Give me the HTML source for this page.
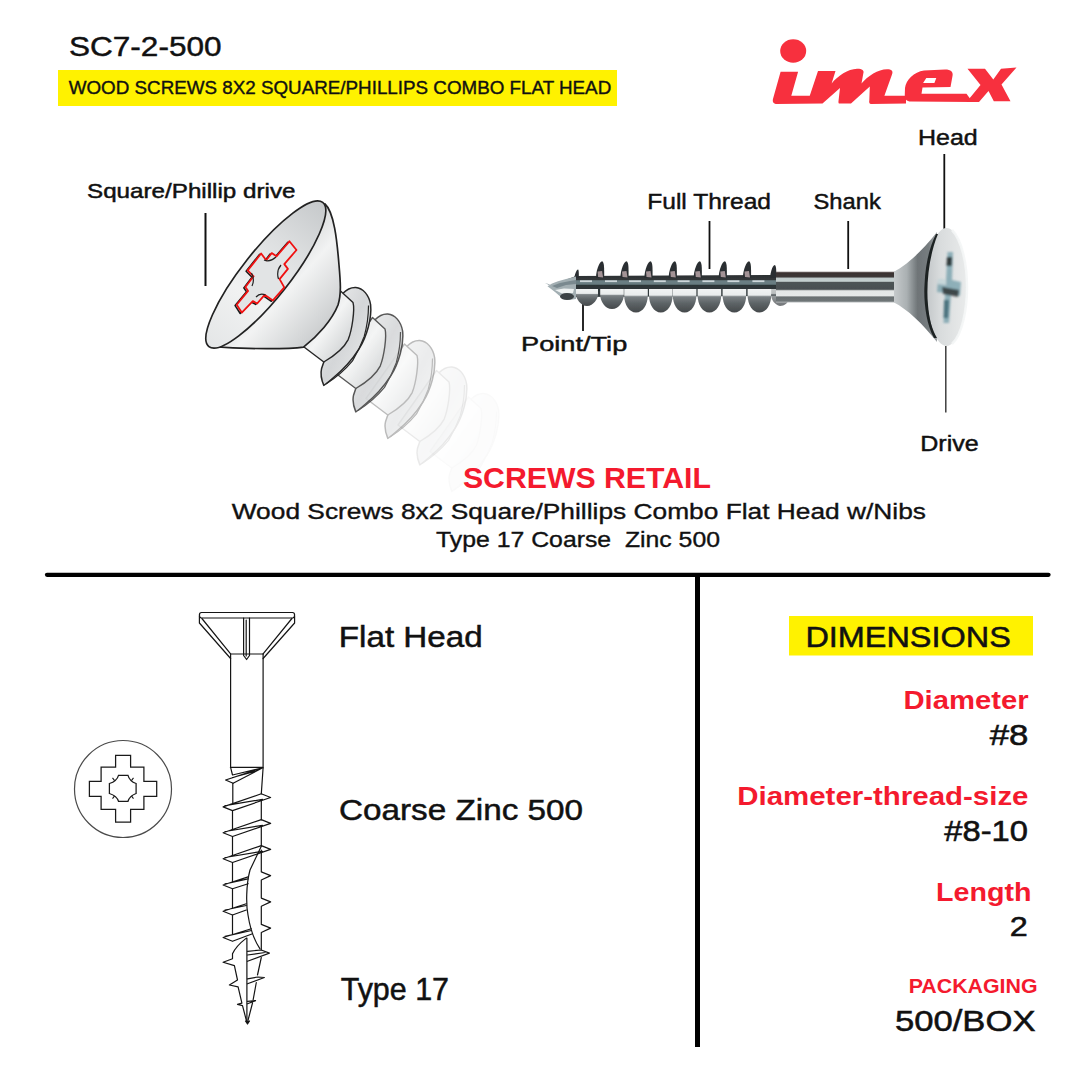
<!DOCTYPE html>
<html><head><meta charset="utf-8">
<style>
html,body{margin:0;padding:0;background:#fff;}
body{width:1080px;height:1080px;overflow:hidden;}
svg{display:block;}
text{font-family:"Liberation Sans",sans-serif;}
</style></head>
<body>
<svg width="1080" height="1080" viewBox="0 0 1080 1080">
<defs>
 <filter id="soft2" x="-20%" y="-20%" width="140%" height="140%"><feGaussianBlur stdDeviation="0.9"/></filter>
 <linearGradient id="ringg" x1="0" y1="0" x2="1" y2="1">
  <stop offset="0" stop-color="#f2f3f3"/>
  <stop offset="0.5" stop-color="#d4d6d8"/>
  <stop offset="1" stop-color="#eceeee"/>
 </linearGradient>
 <linearGradient id="coreL" x1="0" y1="0" x2="1" y2="1">
  <stop offset="0" stop-color="#d0d2d4"/>
  <stop offset="0.5" stop-color="#f3f4f4"/>
  <stop offset="1" stop-color="#c2c5c7"/>
 </linearGradient>

 <filter id="soft" x="-5%" y="-5%" width="110%" height="110%"><feGaussianBlur stdDeviation="0.55"/></filter>
 <linearGradient id="core" x1="0" y1="0" x2="0" y2="1">
  <stop offset="0" stop-color="#2c3032"/>
  <stop offset="0.22" stop-color="#323739"/>
  <stop offset="0.26" stop-color="#6c8085"/>
  <stop offset="0.42" stop-color="#667a7f"/>
  <stop offset="0.47" stop-color="#2c3436"/>
  <stop offset="1" stop-color="#333b3d"/>
 </linearGradient>
 <linearGradient id="lobe" x1="0" y1="0" x2="0" y2="1">
  <stop offset="0" stop-color="#f1f3f3"/>
  <stop offset="0.26" stop-color="#e9ecec"/>
  <stop offset="0.33" stop-color="#7b8184"/>
  <stop offset="0.6" stop-color="#5e6467"/>
  <stop offset="1" stop-color="#45494b"/>
 </linearGradient>

 <linearGradient id="shank" x1="0" y1="0" x2="0" y2="1">
  <stop offset="0" stop-color="#7a7070"/>
  <stop offset="0.05" stop-color="#3a3232"/>
  <stop offset="0.17" stop-color="#3e3838"/>
  <stop offset="0.21" stop-color="#bfcacb"/>
  <stop offset="0.31" stop-color="#c5d0d0"/>
  <stop offset="0.35" stop-color="#4d5355"/>
  <stop offset="0.57" stop-color="#4a5052"/>
  <stop offset="0.62" stop-color="#e3e6e6"/>
  <stop offset="0.78" stop-color="#e5e8e8"/>
  <stop offset="0.82" stop-color="#6a7072"/>
  <stop offset="0.95" stop-color="#6e7476"/>
  <stop offset="1" stop-color="#b8bcbe"/>
 </linearGradient>
 <linearGradient id="cone" x1="0" y1="0" x2="1" y2="0">
  <stop offset="0" stop-color="#c6cacc"/>
  <stop offset="0.3" stop-color="#aab0b2"/>
  <stop offset="0.55" stop-color="#6e7477"/>
  <stop offset="0.8" stop-color="#767c7f"/>
  <stop offset="1" stop-color="#a0a5a8"/>
 </linearGradient>
 <linearGradient id="headface" x1="0" y1="0" x2="1" y2="0">
  <stop offset="0" stop-color="#c3c7c9"/>
  <stop offset="0.35" stop-color="#d9dcdd"/>
  <stop offset="1" stop-color="#e9ebeb"/>
 </linearGradient>
 <linearGradient id="metal" x1="0" y1="0" x2="1" y2="1">
  <stop offset="0" stop-color="#e9eaeb"/>
  <stop offset="0.35" stop-color="#c9cbcd"/>
  <stop offset="0.6" stop-color="#f2f3f3"/>
  <stop offset="1" stop-color="#b9bcbe"/>
 </linearGradient>
 <linearGradient id="metal2" x1="0" y1="0" x2="1" y2="0">
  <stop offset="0" stop-color="#e4e6e7"/>
  <stop offset="0.35" stop-color="#f1f2f2"/>
  <stop offset="0.7" stop-color="#dcdedf"/>
  <stop offset="1" stop-color="#c6c9cb"/>
 </linearGradient>
</defs>

<!-- yellow bars -->
<rect x="58" y="70" width="559" height="36" fill="#fff200"/>
<rect x="789" y="616" width="244" height="39.5" fill="#fff200"/>

<!-- divider lines -->
<line x1="47" y1="574.8" x2="1048.5" y2="574.8" stroke="#000" stroke-width="4.3" stroke-linecap="round"/>
<line x1="697.5" y1="575" x2="697.5" y2="1047" stroke="#000" stroke-width="5"/>

<!-- label lines -->
<line x1="205.5" y1="213" x2="205.5" y2="286" stroke="#111" stroke-width="2"/>
<line x1="709.5" y1="221" x2="709.5" y2="269" stroke="#111" stroke-width="1.8"/>
<line x1="848.2" y1="221" x2="848.2" y2="269" stroke="#111" stroke-width="1.8"/>
<line x1="944.3" y1="154" x2="944.3" y2="229" stroke="#111" stroke-width="1.8"/>
<line x1="945.8" y1="346" x2="945.8" y2="412.5" stroke="#333" stroke-width="1.4"/>
<line x1="583" y1="304" x2="583" y2="331" stroke="#111" stroke-width="1.8"/>

<!--LOGO-->
<!--LOGO_START-->
<g id="logo" fill="#f7303e">
<ellipse cx="793.2" cy="51" rx="13" ry="11.8"/>
<path d="M780.6,71.75 L798.1,71.75 L791.3,95.75 L809.75,95.75 L818,71.1 L835.5,71.1 L831.6,83.4 C838,76 848,69 857,68.8 C862,68.7 864.5,70.5 863.3,73.5 L861.5,83.4 C868,76 878,69.5 887,69.3 C891.5,69.3 893.5,71 892,74.5 L884.4,95.75 L906,95.75 L906,103.5 L871,103.9 C869.5,103.9 868.8,102.5 869.3,100.5 L869.8,86.6 L851,103.6 L839.5,103.6 C838.5,103.6 838.3,102.5 838.5,101 L840,88 L822.5,103.6 L776,104 C773,103.5 772.3,101.5 773.1,98.5 Z"/>
<path fill-rule="evenodd" d="M905,88 C906,80 914,72 924,70.5 L945,69.4 C951,69.4 953.5,72 952.5,76 L950.5,86.9 L922.5,87.5 L921.5,93.75 L966.5,93.75 L972.5,101.9 L911,101.5 C906.5,101.5 904.5,99 904.8,94 Z M926.3,78.1 L936.3,78.1 L934.4,83.1 L923.1,83.1 Z"/>
<path d="M967.5,68.75 L985,68.75 L993.3,79.5 L1001,68.7 L1016.5,67.6 L1001.5,84.5 L1010.5,101.3 L993.8,101.3 L988.5,91 L979,101.9 L966.5,101.9 L980.5,85 Z"/>
</g>
<!--LOGO_END-->

<!--SCREW_RIGHT-->
<!--SCREWR_START-->
<g id="screwR" filter="url(#soft)">
<path d="M568,279 L576,276 L776,275 L776,296 L576,297 L570,296 Z" fill="url(#core)"/>
<path d="M576.0,289 L598.0,289 L598.0,295 C598.0,298 593.6,306 587.0,306 C580.4,306 576.0,298 576.0,295 Z" fill="url(#lobe)"/>
<path d="M600.2,289 L623.8,289 L623.8,295 C623.8,301 619.1,309 612.0,309 C604.9,309 600.2,301 600.2,295 Z" fill="url(#lobe)"/>
<path d="M624.2,289 L647.8,289 L647.8,295 C647.8,304.5 643.1,312.5 636.0,312.5 C628.9,312.5 624.2,304.5 624.2,295 Z" fill="url(#lobe)"/>
<path d="M649.0,289 L672.6,289 L672.6,295 C672.6,304.5 667.9,312.5 660.8,312.5 C653.7,312.5 649.0,304.5 649.0,295 Z" fill="url(#lobe)"/>
<path d="M672.8,289 L696.4,289 L696.4,295 C696.4,304.5 691.7,312.5 684.6,312.5 C677.5,312.5 672.8,304.5 672.8,295 Z" fill="url(#lobe)"/>
<path d="M697.6,289 L721.2,289 L721.2,295 C721.2,304.5 716.5,312.5 709.4,312.5 C702.3,312.5 697.6,304.5 697.6,295 Z" fill="url(#lobe)"/>
<path d="M722.6,289 L746.2,289 L746.2,295 C746.2,304.5 741.5,312.5 734.4,312.5 C727.3,312.5 722.6,304.5 722.6,295 Z" fill="url(#lobe)"/>
<path d="M747.6,289 L771.2,289 L771.2,295 C771.2,304.5 766.5,312.5 759.4,312.5 C752.3,312.5 747.6,304.5 747.6,295 Z" fill="url(#lobe)"/>
<path d="M771,289 L790,289 L790,296 C789,303 784,306 780,306 C775,305 771,300 771,294 Z" fill="url(#lobe)" opacity="0.75"/>
<path d="M574.2,278 C574.2,278.5 575.7,269.5 578.2,269.5 C578.9,270.5 578.9,274.5 578.9,278 Z" fill="#2a2e30"/>
<path d="M596.0,278 C596.0,270.3 599.6,261.3 602.1,261.3 C604.2,262.3 604.2,266.3 604.2,278 Z" fill="#2a2e30"/>
<path d="M597.6,271.5 L602.1,271 L603.1,277.5 L598.1,277 Z" fill="#c2adb0" opacity="0.8"/>
<path d="M620.4,278 C620.4,270.3 624.0,261.3 626.5,261.3 C628.6,262.3 628.6,266.3 628.6,278 Z" fill="#2a2e30"/>
<path d="M622.0,271.5 L626.5,271 L627.5,277.5 L622.5,277 Z" fill="#c2adb0" opacity="0.8"/>
<path d="M644.4,278 C644.4,270.3 648.0,261.3 650.5,261.3 C652.6,262.3 652.6,266.3 652.6,278 Z" fill="#2a2e30"/>
<path d="M646.0,271.5 L650.5,271 L651.5,277.5 L646.5,277 Z" fill="#c2adb0" opacity="0.8"/>
<path d="M668.7,278 C668.7,270.3 672.3,261.3 674.8,261.3 C676.9,262.3 676.9,266.3 676.9,278 Z" fill="#2a2e30"/>
<path d="M670.3,271.5 L674.8,271 L675.8,277.5 L670.8,277 Z" fill="#c2adb0" opacity="0.8"/>
<path d="M693.7,278 C693.7,270.3 697.3,261.3 699.8,261.3 C701.9,262.3 701.9,266.3 701.9,278 Z" fill="#2a2e30"/>
<path d="M695.3,271.5 L699.8,271 L700.8,277.5 L695.8,277 Z" fill="#c2adb0" opacity="0.8"/>
<path d="M718.7,278 C718.7,270.3 722.3,261.3 724.8,261.3 C726.9,262.3 726.9,266.3 726.9,278 Z" fill="#2a2e30"/>
<path d="M720.3,271.5 L724.8,271 L725.8,277.5 L720.8,277 Z" fill="#c2adb0" opacity="0.8"/>
<path d="M742.9,278 C742.9,270.3 746.5,261.3 749.0,261.3 C751.1,262.3 751.1,266.3 751.1,278 Z" fill="#2a2e30"/>
<path d="M744.5,271.5 L749.0,271 L750.0,277.5 L745.0,277 Z" fill="#c2adb0" opacity="0.8"/>
<path d="M770.1,278 C770.1,274 772.3,265 774.8,265 C776.3,266 776.3,270 776.3,278 Z" fill="#2a2e30"/>
<rect x="580.0" y="280.3" width="12" height="1.8" fill="#e6eef0" opacity="0.8"/>
<rect x="605.0" y="280.3" width="12" height="1.8" fill="#e6eef0" opacity="0.8"/>
<rect x="629.0" y="280.3" width="12" height="1.8" fill="#e6eef0" opacity="0.8"/>
<rect x="653.8" y="280.3" width="12" height="1.8" fill="#e6eef0" opacity="0.8"/>
<rect x="677.6" y="280.3" width="12" height="1.8" fill="#e6eef0" opacity="0.8"/>
<rect x="702.4" y="280.3" width="12" height="1.8" fill="#e6eef0" opacity="0.8"/>
<rect x="727.4" y="280.3" width="12" height="1.8" fill="#e6eef0" opacity="0.8"/>
<rect x="752.4" y="280.3" width="12" height="1.8" fill="#e6eef0" opacity="0.8"/>
<path d="M547.5,286.3 L552,283.5 L558,281.3 L566,279 L576,276.5 L576,299 L569,300 L562,298 L555,292 Z" fill="#a3afb3"/>
<path d="M552,286 L560,283 L570,281 L576,280 L576,284 L566,285 L557,288 Z" fill="#6f8086" opacity="0.8"/>
<path d="M555,290 L564,288.5 L574,289 L573,293 L562,293.5 Z" fill="#eef2f2"/>
<ellipse cx="567" cy="296.5" rx="7" ry="3.5" fill="#3b4244"/>
<path d="M549,285 L545,283 L550,284.5 Z" fill="#8d9aa0"/>
<rect x="776" y="271.7" width="119.5" height="30.8" fill="url(#shank)"/>
<path d="M894,271.7 C907,265 923,250 937,232 L937,342 C923,324 907,309 894,302.5 Z" fill="url(#cone)"/>
<ellipse cx="946.5" cy="287" rx="20" ry="59" fill="url(#headface)"/>
<path d="M952,230 C962,240 967,265 967,287 C967,310 962,335 952,344" fill="none" stroke="#f4f6f6" stroke-width="2.5" opacity="0.9"/>
<path d="M938,234 C929,255 926,285 928,305 C929,318 932,330 937,338 L934,338 C926,324 923.5,300 924.5,285 C925.5,262 930,246 936,234 Z" fill="#1e2224"/>
<g filter="url(#soft2)">
<path d="M947.5,252 L953,252 L952,280 L961,282 L960,296 L951,294 L949,323 L943.5,323 L945,293 L937,292 L938,279 L946,280 Z" fill="#6b98a5" opacity="0.7"/>
<path d="M942,287 L959,290 L958,297 L943,294 Z" fill="#202426" opacity="0.75"/>
<path d="M947,257 L952,257 L951.5,266 L946.5,266 Z" fill="#202426" opacity="0.85"/>
<path d="M944,300 L949,300 L948,318 L943.5,318 Z" fill="#2f5a66" opacity="0.7"/>
<path d="M938,279 L946,280 L946,285 L938,284 Z" fill="#dfe8ea" opacity="0.7"/>
</g>
</g>
<!--SCREWR_END-->

<!--SCREW_LEFT-->
<!--SCREWL_START-->
<g id="screwL" stroke-linejoin="round">
<g opacity="0.06" transform="translate(128.0 106.0)">
<path d="M343,293.3 C347,289 351,287.3 355.7,287.5 C363,288 369,295 370.6,304.5 C372,318 367,336 358.9,349.2 C352,360 343,370 333,378 C329,381.5 326,384 323.8,385.4 C321.5,380 320.5,373 321.6,368.4 L323.8,362 Z" fill="url(#ringg)" stroke="#aaa" stroke-width="1.5"/>
<path d="M368.5,305.6 C368.5,320 366,330 364.2,336.4 C360,348 356,355 352.5,360.9 C345,370 337,377 326,384" fill="none" stroke="#aaa" stroke-width="1.2"/>
<path d="M340.5,291 L353,302.4 C355,310 352,330 348.2,339.6 C344,348 334,356 323.8,362 L302,345.5 Z" fill="url(#coreL)" stroke="#aaa" stroke-width="1.4"/>
</g>
<g opacity="0.18" transform="translate(96.0 79.5)">
<path d="M343,293.3 C347,289 351,287.3 355.7,287.5 C363,288 369,295 370.6,304.5 C372,318 367,336 358.9,349.2 C352,360 343,370 333,378 C329,381.5 326,384 323.8,385.4 C321.5,380 320.5,373 321.6,368.4 L323.8,362 Z" fill="url(#ringg)" stroke="#8a8a8a" stroke-width="1.5"/>
<path d="M368.5,305.6 C368.5,320 366,330 364.2,336.4 C360,348 356,355 352.5,360.9 C345,370 337,377 326,384" fill="none" stroke="#8a8a8a" stroke-width="1.2"/>
<path d="M340.5,291 L353,302.4 C355,310 352,330 348.2,339.6 C344,348 334,356 323.8,362 L302,345.5 Z" fill="url(#coreL)" stroke="#8a8a8a" stroke-width="1.4"/>
</g>
<g opacity="0.45" transform="translate(64.0 53.0)">
<path d="M343,293.3 C347,289 351,287.3 355.7,287.5 C363,288 369,295 370.6,304.5 C372,318 367,336 358.9,349.2 C352,360 343,370 333,378 C329,381.5 326,384 323.8,385.4 C321.5,380 320.5,373 321.6,368.4 L323.8,362 Z" fill="url(#ringg)" stroke="#6a6a6a" stroke-width="1.5"/>
<path d="M368.5,305.6 C368.5,320 366,330 364.2,336.4 C360,348 356,355 352.5,360.9 C345,370 337,377 326,384" fill="none" stroke="#6a6a6a" stroke-width="1.2"/>
<path d="M340.5,291 L353,302.4 C355,310 352,330 348.2,339.6 C344,348 334,356 323.8,362 L302,345.5 Z" fill="url(#coreL)" stroke="#6a6a6a" stroke-width="1.4"/>
</g>
<g opacity="0.88" transform="translate(32.0 26.5)">
<path d="M343,293.3 C347,289 351,287.3 355.7,287.5 C363,288 369,295 370.6,304.5 C372,318 367,336 358.9,349.2 C352,360 343,370 333,378 C329,381.5 326,384 323.8,385.4 C321.5,380 320.5,373 321.6,368.4 L323.8,362 Z" fill="url(#ringg)" stroke="#404040" stroke-width="1.5"/>
<path d="M368.5,305.6 C368.5,320 366,330 364.2,336.4 C360,348 356,355 352.5,360.9 C345,370 337,377 326,384" fill="none" stroke="#404040" stroke-width="1.2"/>
<path d="M340.5,291 L353,302.4 C355,310 352,330 348.2,339.6 C344,348 334,356 323.8,362 L302,345.5 Z" fill="url(#coreL)" stroke="#404040" stroke-width="1.4"/>
</g>
<g opacity="1.0" transform="translate(0.0 0.0)">
<path d="M343,293.3 C347,289 351,287.3 355.7,287.5 C363,288 369,295 370.6,304.5 C372,318 367,336 358.9,349.2 C352,360 343,370 333,378 C329,381.5 326,384 323.8,385.4 C321.5,380 320.5,373 321.6,368.4 L323.8,362 Z" fill="url(#ringg)" stroke="#262626" stroke-width="1.5"/>
<path d="M368.5,305.6 C368.5,320 366,330 364.2,336.4 C360,348 356,355 352.5,360.9 C345,370 337,377 326,384" fill="none" stroke="#262626" stroke-width="1.2"/>
<path d="M340.5,291 L353,302.4 C355,310 352,330 348.2,339.6 C344,348 334,356 323.8,362 L302,345.5 Z" fill="url(#coreL)" stroke="#262626" stroke-width="1.4"/>
</g>
<path d="M325,204 C334,212 337,240 339,265 C340.5,282 341.5,294 338,305 C332,320 318,336 303.5,347.1 C290,349 250,349.5 210,346.5 Z" fill="url(#metal)" stroke="#222" stroke-width="1.7"/>
<ellipse cx="265.8" cy="274.5" rx="91.8" ry="23.8" transform="rotate(-51.7 265.8 274.5)" fill="url(#metal2)" stroke="#222" stroke-width="1.7"/>
<path d="M287.8,242.2 L294.9,250.9 L282.7,265.0 L286.3,269.8 L278.0,280.0 L282.7,288.3 L271.3,301.3 L263.0,295.7 L255.6,304.4 L251.2,302.0 L240.2,313.5 L235.1,305.6 L246.5,291.8 L243.8,287.9 L252.0,277.2 L246.1,271.3 L259.5,254.4 L264.6,261.1 L270.1,254.0 L274.9,257.2 Z" fill="#c9cccd" stroke="#1a1a1a" stroke-width="1.5"/>
<path d="M289.4,241.3 L296.5,250.0 L284.3,264.1 L287.9,268.9 L279.6,279.1 L284.3,287.4 L272.9,300.4 L264.6,294.8 L257.2,303.5 L252.8,301.1 L241.8,312.6 L236.7,304.7 L248.1,290.9 L245.4,287.0 L253.6,276.3 L247.7,270.4 L261.1,253.5 L266.2,260.2 L271.7,253.1 L276.5,256.3 Z" fill="#e2e4e5" stroke="#f01010" stroke-width="1.8"/>
<path d="M264,260 Q270,262.5 276,257 M281,265 Q276,271 278.5,279 M256,297 Q260,292.5 265.5,295 M252,286 Q255,280 251.5,273" fill="none" stroke="#222" stroke-width="1.2"/>
</g>
<!--SCREWL_END-->

<!--SCREW_LINE-->
<!--LINE_START-->
<g id="screwLine" fill="none" stroke="#151515" stroke-width="1.2" stroke-linejoin="round" stroke-linecap="round">
<path d="M201.5,612.5 H292.5 Q294.6,612.5 294.6,615 Q294.6,618 292.5,618 H201.5 Q199.4,618 199.4,615 Q199.4,612.5 201.5,612.5 Z"/>
<path d="M199.4,616 V623 L230.6,658.5 M201.9,618.5 L230.6,653.8 M294.6,616 V623 L263.1,658.5 M291.9,618.5 L263.1,653.8"/>
<path d="M230.6,654 H263.1"/>
<path d="M243.6,618 V655.5 L246.6,659.5 L249.5,655.5 V618 M246.2,620 V656"/>
<path d="M230.6,654 V767.3 M263.1,654 V767.8 M230.4,767.3 H263.1"/>
<path d="M230.6,767.3 L232.5,775 L262.7,767.8 L225.6,780 L233.1,783.3 L262.7,767.8 M232.5,777.5 L255,771.3"/>
<path d="M263.1,767.8 L261.3,793.8"/>
<path d="M232.8,783.3 V803.7"/>
<path d="M223.1,806.9 L261.3,793.8 L270.6,797.5 L232.5,810.6 Z M225,805.6 L262.5,799.4"/>
<path d="M232.5,810.6 V829.7 M261.3,800.0 V819.8"/>
<path d="M223.1,832.8 L261.3,819.6 L270.6,823.4 L232.5,836.5 Z M225,831.5 L262.5,825.3"/>
<path d="M232.5,836.5 V855.6 M261.3,825.9 V845.6"/>
<path d="M223.1,858.8 L261.3,845.6 L270.6,849.4 L232.5,862.5 Z M225,857.5 L262.5,851.3"/>
<path d="M232.5,862.5 V881.8 M232.5,888.8 V908 M232.5,915 V934.3"/>
<path d="M223.1,885 L248.1,876.9 M223.1,885 L232.5,888.8 L248.2,883.8 M225,883.8 L248,878.8"/>
<path d="M223.1,911.3 L246.3,903.8 M223.1,911.3 L232.5,915 L246.3,910 M225,910 L246.3,905.5"/>
<path d="M223.1,937.5 L251.3,928.8 M223.1,937.5 L232.5,941.3 L252.5,933.8 M225,936.3 L251.5,930.5"/>
<path d="M261.3,846.3 L250,870 C246,885 246,905 248,915 C250,928 254,940 260,948.8"/>
<path d="M261.3,850 V871.9 L270.6,875.6 L261.3,880 V898.1 L270.6,901.9 L261.3,906.3 V924.4 L270.6,928.1 L261.3,932.5 V950"/>
<path d="M246.3,938.1 C240,943 235,948 232.5,953.8 M246.9,938 V1021"/>
<path d="M232.5,953.8 V958.8 L223.1,962.2 L234.4,965.6 L237.5,980 L229.4,985 L238.1,986.9 L241.9,1003.1 L237.5,1004.4 L242.5,1005.6 L246.9,1022.5"/>
<path d="M247.5,951.3 L261.3,950 L269.4,953.1 L247.5,961.3 M247.5,955 L265,952.5 M261.3,957.5 L257.5,975"/>
<path d="M247.5,978.8 L257.8,977 L264.4,977.5 L247.5,983.8 M256.3,982.5 L253.1,1000"/>
<path d="M247.5,1001.3 L255.6,1000.6 L247.5,1003.8 M252.5,1003 L248.1,1020"/>
<path d="M245.5,1021 L247.5,1024 L249.5,1021 Z" fill="#151515"/>
</g>
<!--LINE_END-->

<!--PHILLIPS-->
<!--PHIL_START-->
<g id="phil" fill="none" stroke="#1a1a1a" stroke-width="1.25">
<circle cx="123" cy="789" r="48.5" stroke="#4a4a4a" stroke-width="1.2"/>
<path d="M115.6,755.3 H130.6 V767.2 H143.9 V781.4 H156.7 V796.4 H143.9 V809.4 H130.6 V822.2 H115.6 V809.4 H101.1 V796.4 H89.4 V781.4 H101.1 V767.2 H115.6 Z"/>
<path d="M118.5,775.3 H128 C129,779 132,782 136.1,783.5 V793.5 C132,795 129,798 128,801.3 H118.5 C117.5,798 114,795 109.4,793.5 V783.5 C114,782 117.5,779 118.5,775.3 Z"/>
<path d="M112.5,777.8 L114.6,780.6 M133.5,777.8 L131.4,780.6 M112.5,798.6 L114.6,795.8 M133.5,798.6 L131.4,795.8" stroke-width="1.1"/>
</g>
<!--PHIL_END-->

<text id="t0" x="69.00" y="56.25" font-size="28.49" font-weight="400" fill="#111" stroke="#111" stroke-width="0.45" textLength="152.50" lengthAdjust="spacingAndGlyphs" xml:space="preserve">SC7-2-500</text>
<text id="t1" x="68.75" y="94.25" font-size="18.90" font-weight="400" fill="#111" stroke="#111" stroke-width="0.4" textLength="542.50" lengthAdjust="spacingAndGlyphs" xml:space="preserve">WOOD SCREWS 8X2 SQUARE/PHILLIPS COMBO FLAT HEAD</text>
<text id="t2" x="87.00" y="198.00" font-size="19.62" font-weight="400" fill="#111" stroke="#111" stroke-width="0.45" textLength="208.50" lengthAdjust="spacingAndGlyphs" xml:space="preserve">Square/Phillip drive</text>
<text id="t3" x="647.25" y="209.25" font-size="22.53" font-weight="400" fill="#111" stroke="#111" stroke-width="0.45" textLength="123.75" lengthAdjust="spacingAndGlyphs" xml:space="preserve">Full Thread</text>
<text id="t4" x="813.50" y="209.25" font-size="22.53" font-weight="400" fill="#111" stroke="#111" stroke-width="0.45" textLength="67.25" lengthAdjust="spacingAndGlyphs" xml:space="preserve">Shank</text>
<text id="t5" x="918.00" y="144.50" font-size="21.80" font-weight="400" fill="#111" stroke="#111" stroke-width="0.45" textLength="59.75" lengthAdjust="spacingAndGlyphs" xml:space="preserve">Head</text>
<text id="t6" x="920.25" y="451.25" font-size="21.80" font-weight="400" fill="#111" stroke="#111" stroke-width="0.45" textLength="58.50" lengthAdjust="spacingAndGlyphs" xml:space="preserve">Drive</text>
<text id="t7" x="521.00" y="351.25" font-size="20.35" font-weight="400" fill="#111" stroke="#111" stroke-width="0.45" textLength="106.25" lengthAdjust="spacingAndGlyphs" xml:space="preserve">Point/Tip</text>
<text id="t8" x="462.90" y="488.30" font-size="29.07" font-weight="700" fill="#f41a2e" textLength="248.10" lengthAdjust="spacingAndGlyphs" xml:space="preserve">SCREWS RETAIL</text>
<text id="t9" x="231.75" y="518.75" font-size="21.51" font-weight="400" fill="#111" stroke="#111" stroke-width="0.35" textLength="694.25" lengthAdjust="spacingAndGlyphs" xml:space="preserve">Wood Screws 8x2 Square/Phillips Combo Flat Head w/Nibs</text>
<text id="t10" x="436.10" y="547.30" font-size="22.09" font-weight="400" fill="#111" stroke="#111" stroke-width="0.35" textLength="283.90" lengthAdjust="spacingAndGlyphs" xml:space="preserve">Type 17 Coarse  Zinc 500</text>
<text id="t11" x="338.75" y="647.00" font-size="29.94" font-weight="400" fill="#111" stroke="#111" stroke-width="0.5" textLength="144.00" lengthAdjust="spacingAndGlyphs" xml:space="preserve">Flat Head</text>
<text id="t12" x="339.00" y="820.00" font-size="29.65" font-weight="400" fill="#111" stroke="#111" stroke-width="0.5" textLength="244.00" lengthAdjust="spacingAndGlyphs" xml:space="preserve">Coarse Zinc 500</text>
<text id="t13" x="340.75" y="999.50" font-size="30.52" font-weight="400" fill="#111" stroke="#111" stroke-width="0.5" textLength="108.25" lengthAdjust="spacingAndGlyphs" xml:space="preserve">Type 17</text>
<text id="t14" x="805.40" y="647.00" font-size="29.07" font-weight="400" fill="#111" stroke="#111" stroke-width="0.5" textLength="205.40" lengthAdjust="spacingAndGlyphs" xml:space="preserve">DIMENSIONS</text>
<text id="t15" x="903.50" y="708.75" font-size="25.44" font-weight="700" fill="#f41a2e" textLength="125.00" lengthAdjust="spacingAndGlyphs" xml:space="preserve">Diameter</text>
<text id="t16" x="989.75" y="745.00" font-size="29.65" font-weight="400" fill="#111" stroke="#111" stroke-width="0.55" textLength="38.75" lengthAdjust="spacingAndGlyphs" xml:space="preserve">#8</text>
<text id="t17" x="737.25" y="805.00" font-size="25.44" font-weight="700" fill="#f41a2e" textLength="291.25" lengthAdjust="spacingAndGlyphs" xml:space="preserve">Diameter-thread-size</text>
<text id="t18" x="944.25" y="840.75" font-size="29.65" font-weight="400" fill="#111" stroke="#111" stroke-width="0.55" textLength="83.75" lengthAdjust="spacingAndGlyphs" xml:space="preserve">#8-10</text>
<text id="t19" x="936.00" y="900.50" font-size="25.44" font-weight="700" fill="#f41a2e" textLength="95.50" lengthAdjust="spacingAndGlyphs" xml:space="preserve">Length</text>
<text id="t20" x="1009.75" y="936.25" font-size="28.49" font-weight="400" fill="#111" stroke="#111" stroke-width="0.55" textLength="18.00" lengthAdjust="spacingAndGlyphs" xml:space="preserve">2</text>
<text id="t21" x="908.70" y="992.80" font-size="20.35" font-weight="700" fill="#f41a2e" textLength="128.90" lengthAdjust="spacingAndGlyphs" xml:space="preserve">PACKAGING</text>
<text id="t22" x="894.90" y="1030.50" font-size="29.36" font-weight="400" fill="#111" stroke="#111" stroke-width="0.5" textLength="140.70" lengthAdjust="spacingAndGlyphs" xml:space="preserve">500/BOX</text>
</svg>
</body></html>
